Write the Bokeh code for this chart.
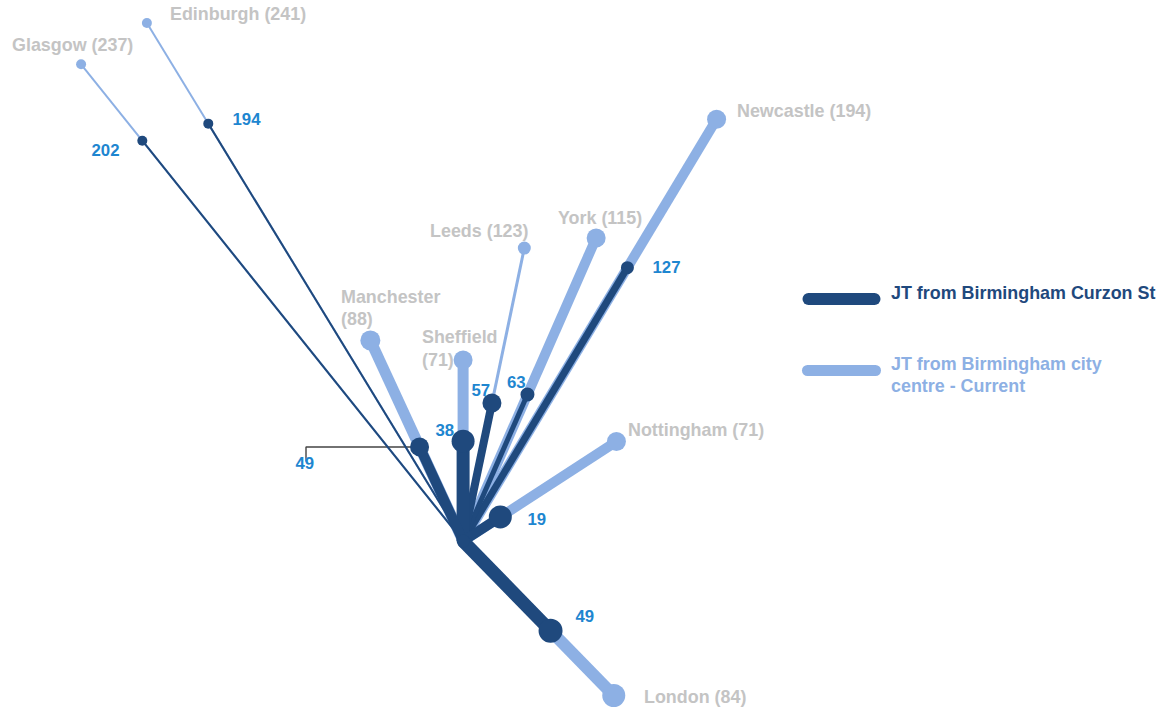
import math
from bokeh.plotting import figure
from bokeh.models import ColumnDataSource, Range1d, Label
from bokeh.embed import file_html
from bokeh.resources import INLINE

destinations = ["Glasgow", "Edinburgh", "Newcastle", "York", "Leeds", "Sheffield", "Manchester", "Nottingham", "London"]
current_labels = [237, 241, 194, 115, 123, 71, 88, 71, 84]
new_labels = [202, 194, 127, 63, 57, 38, 49, 19, 49]
bearing_deg = [-38.7, -31.4, 31.0, 23.7, 11.8, 0.0, -24.8, 57.0, 135.7]
current_reach = [239.6, 238.0, 193.0, 129.8, 117.4, 71.0, 86.7, 71.7, 84.6]
new_reach = [201.2, 191.8, 125.1, 62.8, 55.3, 39.2, 40.7, 17.4, 49.1]

# styling per destination
cur_width = [2, 2, 10, 10, 3, 11, 11, 10, 12]
new_width = [2, 2, 7, 5, 8, 13, 10, 10, 13]
cur_size = [10, 10, 19, 19, 13, 19, 20, 19, 23]
new_size = [10, 10, 13, 14, 19, 23, 19, 23, 24]

DARK, LIGHT, GREY, BLUE = "#1f497d", "#8db0e4", "#c4c4c4", "#1e86d0"
W, H = 1159, 709
OX, OY, K = 462.6, 540.6, 2.55   # origin on page and pixels per minute


def dx(px):
    return (px - OX) / K


def dy(px):
    return (OY - px) / K


p = figure(width=W, height=H, output_backend="svg", toolbar_location=None,
           x_range=Range1d(dx(0), dx(W)), y_range=Range1d(dy(H), dy(0)),
           min_border=0, outline_line_color=None, background_fill_color="white")
p.axis.visible = False
p.grid.visible = False

rad = [math.radians(b) for b in bearing_deg]
src = ColumnDataSource(dict(
    x0=[0.0] * len(rad), y0=[0.0] * len(rad),
    cx=[r * math.sin(a) for r, a in zip(current_reach, rad)],
    cy=[r * math.cos(a) for r, a in zip(current_reach, rad)],
    nx=[r * math.sin(a) for r, a in zip(new_reach, rad)],
    ny=[r * math.cos(a) for r, a in zip(new_reach, rad)],
    cw=cur_width, nw=new_width, cs=cur_size, ns=new_size,
))

p.segment("x0", "y0", "cx", "cy", source=src, line_color=LIGHT, line_width="cw")
p.scatter("cx", "cy", source=src, size="cs", fill_color=LIGHT, line_color=None)

# leader for Manchester
p.line([dx(419), dx(305.5), dx(305.5)], [dy(446.5), dy(446.5), dy(461)], line_color="#444444", line_width=1.4)

p.segment("x0", "y0", "nx", "ny", source=src, line_color=DARK, line_width="nw")
p.scatter("nx", "ny", source=src, size="ns", fill_color=DARK, line_color=None)
p.scatter([0], [0], size=13, fill_color=DARK, line_color=None)


def label(text, x, y, color, size=17.9):
    p.add_layout(Label(x=dx(x), y=dy(y), text=text, text_color=color,
                       text_font="Liberation Sans", text_font_style="bold",
                       text_font_size=f"{size}px", text_baseline="middle", text_align="left"))


def place(i, x, y):
    label(f"{destinations[i]} ({current_labels[i]})", x, y, GREY)


place(0, 11.5, 44.5)
place(1, 169.5, 13.5)
place(2, 736.5, 110.5)
place(3, 557.5, 217.5)
place(4, 429.5, 230.5)
label("Manchester", 340.5, 296.5, GREY)
label(f"({current_labels[6]})", 340.5, 318.5, GREY)
label("Sheffield", 421.5, 336.5, GREY)
label(f"({current_labels[5]})", 421.5, 359.5, GREY)
place(7, 627.5, 429.5)
place(8, 643.5, 696.5)

for i, (x, y) in enumerate([(91, 149.5), (232, 118.5), (652, 266.5), (506.5, 381.5), (471, 389.5),
                            (435, 429.5), (295, 462.5), (527, 518.5), (575, 615.5)]):
    label(str(new_labels[i]), x, y, BLUE, 16.8)

p.line([dx(808), dx(874)], [dy(298.5), dy(298.5)], line_color=DARK, line_width=12, line_cap="round")
p.line([dx(807), dx(875)], [dy(370), dy(370)], line_color=LIGHT, line_width=11, line_cap="round")
label("JT from Birmingham Curzon St", 890.5, 292.5, DARK)
label("JT from Birmingham city", 890.5, 363.5, LIGHT)
label("centre - Current", 890.5, 385.5, LIGHT)

open("out.html", "w").write(file_html(p, INLINE))
